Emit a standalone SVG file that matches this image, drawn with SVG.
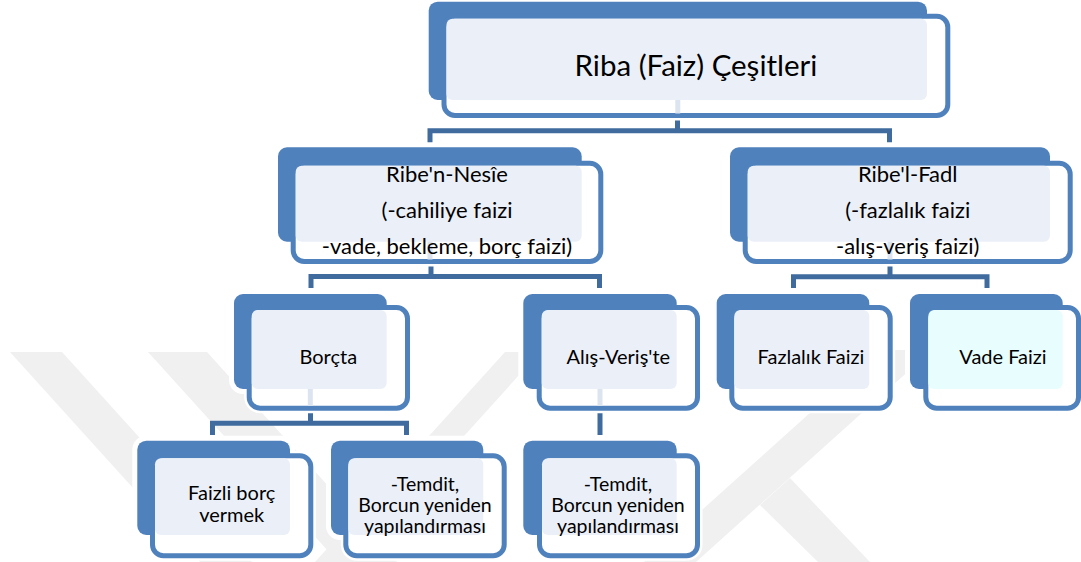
<svg xmlns="http://www.w3.org/2000/svg" width="1081" height="562" viewBox="0 0 1081 562">
<style>
.wm{fill:#F0F0F0}
.halo{fill:#FFFFFF;stroke:#FFFFFF;stroke-width:10}
.back{fill:#4F81BD}
.front{fill:#FFFFFF;stroke:#4F81BD;stroke-width:5}
.lf{fill:#EBF0F8}
.lc{fill:#E8FDFE}
.stub{stroke:#DCE4F0;stroke-width:5}
.conn{fill:none;stroke:#3F6B9F;stroke-width:5}
.t{font-family:Lato,"Liberation Sans",sans-serif;fill:#000000;text-anchor:middle}
.t1{font-size:29.5px}
.t2{font-size:22px}
.t3{font-size:20px}
.t4{font-size:19.5px}
</style>
<rect width="1081" height="562" fill="#FFFFFF"/>
<g id="watermark">
<polygon class="wm" points="10,352 62,352 252,562 200,562"/>
<polygon class="wm" points="148,352 207,352 397,562 338,562"/>
<polygon class="wm" points="505,352 540,352 350,562 315,562"/>
<polygon class="wm" points="880,350 932,350 696,562 644,562"/>
<polygon class="wm" points="760,505 790,478 870,562 818,562"/>
</g>
<g id="connectors">
<path class="stub" d="M677.8,100 V113.5 M430,241.7 V259.5 M890,241.7 V259.5 M310.3,389 V406 M600,389 V406"/>
<path class="conn" d="M677.5,116 V130.8 M430,143 V130.8 H889.5 V143"/>
<path class="conn" d="M431,262 V276.5 M311,288 V276.5 H599.5 V288"/>
<path class="conn" d="M890,262 V276.7 M793.5,288 V276.7 H987 V288"/>
<path class="conn" d="M310.5,408.5 V423.3 M212.5,435 V423.3 H406.5 V435"/>
<path class="conn" d="M600,408.5 V435"/>
</g>
<g id="n-riba">
<rect class="halo" x="428.7" y="1.7" width="498.3" height="98.3" rx="9"/>
<rect class="halo" x="444" y="16.3" width="503.8" height="99.2" rx="11"/>
<rect class="back" x="428.7" y="1.7" width="498.3" height="98.3" rx="9"/>
<rect class="front" x="444" y="16.3" width="503.8" height="99.2" rx="11"/>
<rect class="lf" x="446.5" y="18.8" width="480.5" height="81.2" rx="6"/>
<line class="stub" x1="677.8" y1="100" x2="677.8" y2="113.5"/>
<text class="t t1" x="696" y="76">Riba (Faiz) Çeşitleri</text>
</g>
<g id="n-nesie">
<rect class="halo" x="278" y="147.3" width="303.7" height="94.4" rx="9"/>
<rect class="halo" x="293.2" y="163.2" width="307.6" height="98.3" rx="11"/>
<rect class="back" x="278" y="147.3" width="303.7" height="94.4" rx="9"/>
<rect class="front" x="293.2" y="163.2" width="307.6" height="98.3" rx="11"/>
<rect class="lf" x="295.7" y="165.7" width="286" height="76" rx="6"/>
<line class="stub" x1="430" y1="241.7" x2="430" y2="259.5"/>
<text class="t t2" x="447" y="182">Ribe'n-Nesîe</text>
<text class="t t2" x="447" y="218">(-cahiliye faizi</text>
<text class="t t2" x="447" y="253.5">-vade, bekleme, borç faizi)</text>
</g>
<g id="n-fadl">
<rect class="halo" x="730" y="147.3" width="320" height="94.4" rx="9"/>
<rect class="halo" x="745.2" y="163.2" width="325" height="98.3" rx="11"/>
<rect class="back" x="730" y="147.3" width="320" height="94.4" rx="9"/>
<rect class="front" x="745.2" y="163.2" width="325" height="98.3" rx="11"/>
<rect class="lf" x="747.7" y="165.7" width="302.3" height="76" rx="6"/>
<line class="stub" x1="890" y1="241.7" x2="890" y2="259.5"/>
<text class="t t2" x="907.7" y="182">Ribe'l-Fadl</text>
<text class="t t2" x="907.7" y="218">(-fazlalık faizi</text>
<text class="t t2" x="907.7" y="253.5">-alış-veriş faizi)</text>
</g>
<g id="n-borcta">
<rect class="halo" x="234" y="294" width="152.7" height="95" rx="9"/>
<rect class="halo" x="249.2" y="307.5" width="158.3" height="100.7" rx="11"/>
<rect class="back" x="234" y="294" width="152.7" height="95" rx="9"/>
<rect class="front" x="249.2" y="307.5" width="158.3" height="100.7" rx="11"/>
<rect class="lf" x="251.7" y="310" width="135" height="79" rx="6"/>
<line class="stub" x1="310.3" y1="389" x2="310.3" y2="406"/>
<text class="t t3" x="328.3" y="364">Borçta</text>
</g>
<g id="n-alisveris">
<rect class="halo" x="523.3" y="294" width="153.4" height="95" rx="9"/>
<rect class="halo" x="539.2" y="307.5" width="158.3" height="100.7" rx="11"/>
<rect class="back" x="523.3" y="294" width="153.4" height="95" rx="9"/>
<rect class="front" x="539.2" y="307.5" width="158.3" height="100.7" rx="11"/>
<rect class="lf" x="541.7" y="310" width="135" height="79" rx="6"/>
<line class="stub" x1="600" y1="389" x2="600" y2="406"/>
<text class="t t3" x="618.3" y="364">Alış-Veriş'te</text>
</g>
<g id="n-fazlalik">
<rect class="halo" x="716.7" y="294" width="152.6" height="95" rx="9"/>
<rect class="halo" x="731.8" y="307.5" width="158.4" height="100.7" rx="11"/>
<rect class="back" x="716.7" y="294" width="152.6" height="95" rx="9"/>
<rect class="front" x="731.8" y="307.5" width="158.4" height="100.7" rx="11"/>
<rect class="lf" x="734.3" y="310" width="135" height="79" rx="6"/>
<text class="t t3" x="811" y="364">Fazlalık Faizi</text>
</g>
<g id="n-vade">
<rect class="halo" x="910" y="294" width="152.7" height="95" rx="9"/>
<rect class="halo" x="925.8" y="307.5" width="152.7" height="100.7" rx="11"/>
<rect class="back" x="910" y="294" width="152.7" height="95" rx="9"/>
<rect class="front" x="925.8" y="307.5" width="152.7" height="100.7" rx="11"/>
<rect class="lc" x="928.3" y="310" width="134.4" height="79" rx="6"/>
<text class="t t3" x="1003" y="364">Vade Faizi</text>
</g>
<g id="n-faizli">
<rect class="halo" x="137.3" y="440.7" width="152.7" height="94.3" rx="9"/>
<rect class="halo" x="152.5" y="455.8" width="158.3" height="100" rx="11"/>
<rect class="back" x="137.3" y="440.7" width="152.7" height="94.3" rx="9"/>
<rect class="front" x="152.5" y="455.8" width="158.3" height="100" rx="11"/>
<rect class="lf" x="155" y="458.3" width="135" height="76.7" rx="6"/>
<text class="t t3" x="231.7" y="500">Faizli borç</text>
<text class="t t3" x="231.7" y="522">vermek</text>
</g>
<g id="n-temdit1">
<rect class="halo" x="331" y="440.7" width="152.3" height="94.3" rx="9"/>
<rect class="halo" x="345.8" y="455.8" width="158.4" height="100" rx="11"/>
<rect class="back" x="331" y="440.7" width="152.3" height="94.3" rx="9"/>
<rect class="front" x="345.8" y="455.8" width="158.4" height="100" rx="11"/>
<rect class="lf" x="348.3" y="458.3" width="135" height="76.7" rx="6"/>
<text class="t t4" x="425" y="490.5">-Temdit,</text>
<text class="t t4" x="425" y="511.5">Borcun yeniden</text>
<text class="t t4" x="425" y="532.5">yapılandırması</text>
</g>
<g id="n-temdit2">
<rect class="halo" x="523.3" y="440.7" width="153.4" height="94.3" rx="9"/>
<rect class="halo" x="539.5" y="455.8" width="158" height="100" rx="11"/>
<rect class="back" x="523.3" y="440.7" width="153.4" height="94.3" rx="9"/>
<rect class="front" x="539.5" y="455.8" width="158" height="100" rx="11"/>
<rect class="lf" x="542" y="458.3" width="134.7" height="76.7" rx="6"/>
<text class="t t4" x="618" y="490.5">-Temdit,</text>
<text class="t t4" x="618" y="511.5">Borcun yeniden</text>
<text class="t t4" x="618" y="532.5">yapılandırması</text>
</g>
</svg>
